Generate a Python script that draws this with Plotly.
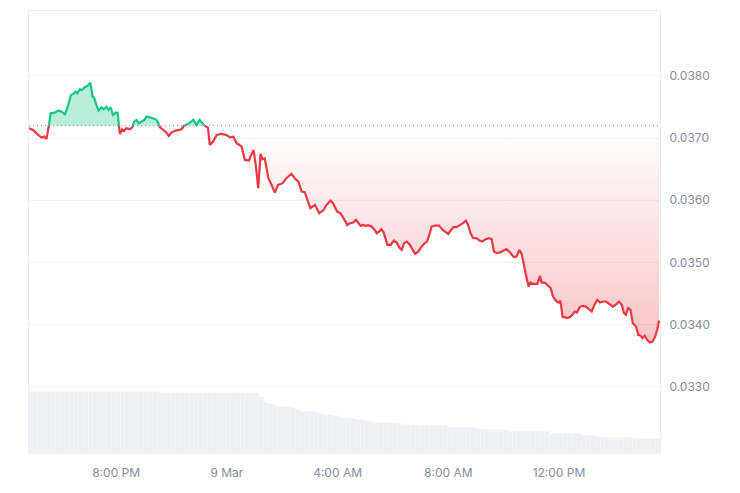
import numpy as np
import pandas as pd
import plotly.graph_objects as go

# ---------------- data ----------------
base_price = 0.03720  # opening (24h ago) reference price, dotted line

times_mar8 = ["16:51", "17:00", "17:11", "17:18", "17:24", "17:29", "17:34", "17:38", "17:47", "17:54",
              "18:02", "18:09", "18:15", "18:22", "18:27", "18:32", "18:36", "18:41", "18:46", "18:52",
              "18:58", "19:04", "19:09", "19:12", "19:17", "19:22", "19:28", "19:33", "19:39", "19:43",
              "19:48", "19:53", "19:59", "20:03", "20:08", "20:13", "20:17", "20:22", "20:30", "20:35",
              "20:39", "20:44", "20:49", "20:55", "21:01", "21:06", "21:13", "21:20", "21:28", "21:35",
              "21:42", "21:49", "21:54", "22:00", "22:07", "22:16", "22:22", "22:27", "22:35", "22:40",
              "22:47", "22:54", "23:01", "23:09", "23:19", "23:23", "23:30", "23:38", "23:48", "23:59"]

times_mar9 = ["00:06", "00:14", "00:21", "00:28", "00:32", "00:39", "00:48", "00:51", "00:58", "01:03",
              "01:08", "01:13", "01:17", "01:22", "01:30", "01:37", "01:44", "01:51", "02:01", "02:09",
              "02:20", "02:27", "02:35", "02:42", "02:49", "02:56", "03:01", "03:11", "03:20", "03:29",
              "03:36", "03:45", "03:50", "03:59", "04:06", "04:14", "04:21", "04:27", "04:34", "04:40",
              "04:45", "04:50", "04:55", "05:01", "05:06", "05:14", "05:19", "05:25", "05:30", "05:35",
              "05:40", "05:48", "05:55", "06:02", "06:08", "06:15", "06:19", "06:24", "06:30", "06:37",
              "06:43", "06:48", "06:55", "07:02", "07:09", "07:14", "07:20", "07:24", "07:31", "07:40",
              "07:48", "07:55", "08:00", "08:05", "08:11", "08:18", "08:27", "08:32", "08:38", "08:43",
              "08:48", "08:54", "09:01", "09:08", "09:14", "09:21", "09:28", "09:34", "09:39", "09:45",
              "09:52", "09:59", "10:06", "10:14", "10:22", "10:28", "10:34", "10:39", "10:44", "10:50",
              "10:54", "10:58", "11:04", "11:13", "11:19", "11:22", "11:29", "11:37", "11:42", "11:47",
              "11:55", "12:00", "12:03", "12:08", "12:13", "12:18", "12:24", "12:29", "12:34", "12:39",
              "12:45", "12:51", "12:58", "13:05", "13:11", "13:16", "13:23", "13:29", "13:36", "13:42",
              "13:49", "13:57", "14:05", "14:10", "14:16", "14:21", "14:25", "14:30", "14:35", "14:40",
              "14:47", "14:52", "14:57", "15:01", "15:06", "15:11", "15:17", "15:23", "15:28", "15:33",
              "15:37"]

prices = [
    0.037159, 0.037132, 0.037051, 0.037008, 0.037024, 0.036987, 0.037196, 0.037400, 0.037410, 0.037442,
    0.037426, 0.037384, 0.037506, 0.037694, 0.037711, 0.037748, 0.037722, 0.037786, 0.037775, 0.037818,
    0.037839, 0.037892, 0.037667, 0.037657, 0.037534, 0.037442, 0.037497, 0.037465, 0.037506, 0.037453,
    0.037497, 0.037373, 0.037410, 0.037410, 0.037067, 0.037143, 0.037116, 0.037159, 0.037143, 0.037175,
    0.037265, 0.037292, 0.037239, 0.037265, 0.037292, 0.037346, 0.037336, 0.037320, 0.037292, 0.037175,
    0.037132, 0.037088, 0.037035, 0.037088, 0.037116, 0.037132, 0.037143, 0.037196, 0.037228, 0.037249,
    0.037292, 0.037212, 0.037292, 0.037212, 0.037164, 0.036890, 0.036944, 0.037051, 0.037067, 0.037051,
    0.037014, 0.037024, 0.036918, 0.036886, 0.036863, 0.036649, 0.036638, 0.036702, 0.036810, 0.036542,
    0.036194, 0.036746, 0.036661, 0.036677, 0.036355, 0.036247, 0.036123, 0.036247, 0.036275, 0.036355,
    0.036424, 0.036355, 0.036300, 0.036140, 0.036130, 0.035979, 0.035873, 0.035926, 0.035792, 0.035834,
    0.035926, 0.035995, 0.035953, 0.035818, 0.035792, 0.035696, 0.035604, 0.035631, 0.035641, 0.035684,
    0.035641, 0.035588, 0.035604, 0.035588, 0.035599, 0.035577, 0.035535, 0.035471, 0.035496, 0.035535,
    0.035480, 0.035282, 0.035282, 0.035352, 0.035319, 0.035229, 0.035202, 0.035310, 0.035335, 0.035282,
    0.035202, 0.035138, 0.035175, 0.035255, 0.035310, 0.035335, 0.035471, 0.035577, 0.035593, 0.035593,
    0.035524, 0.035480, 0.035459, 0.035512, 0.035567, 0.035567, 0.035604, 0.035631, 0.035673, 0.035604,
    0.035471, 0.035390, 0.035390, 0.035352, 0.035335, 0.035374, 0.035390, 0.035374, 0.035175, 0.035149,
    0.035159, 0.035191, 0.035213, 0.035159, 0.035085, 0.035094, 0.035202, 0.035138, 0.034934, 0.034747,
    0.034612, 0.034676, 0.034655, 0.034655, 0.034784, 0.034676, 0.034676, 0.034623, 0.034586, 0.034451,
    0.034371, 0.034355, 0.034387, 0.034120, 0.034120, 0.034104, 0.034120, 0.034157, 0.034210, 0.034194,
    0.034281, 0.034302, 0.034290, 0.034248, 0.034210, 0.034302, 0.034398, 0.034355, 0.034371, 0.034371,
    0.034334, 0.034290, 0.034334, 0.034371, 0.034318, 0.034184, 0.034157, 0.034265, 0.034237, 0.034023,
    0.033969, 0.033835, 0.033819, 0.033782, 0.033819, 0.033755, 0.033712, 0.033727, 0.033798, 0.033916,
    0.034065]

# rolling volume, 10-minute bars starting 16:55 (relative units)
vol_start = "2025-03-08 16:55"
volume = [
    61, 61, 61, 61, 61, 61, 61, 61, 61, 61, 61, 61, 61, 61, 61, 61, 61, 61, 61, 61,
    61, 61, 61, 61, 61, 61, 61, 61, 60, 60, 60, 60, 60, 60, 60, 60, 60, 60, 60, 60,
    60, 60, 60, 60, 60, 60, 60, 60, 60, 60, 56, 50.5, 49, 47.5, 46.5, 46, 46, 45, 42.6, 41.5,
    41, 41, 40.5, 39, 38.3, 37.6, 36.8, 36, 35.2, 34.3, 33.8, 33.2, 32.6, 31.8, 31, 30.5, 30, 30, 30, 29.5,
    29, 28.5, 28, 27.6, 27, 26.6, 26.6, 26.6, 26.6, 26.6, 26.6, 25, 25, 25, 25, 25, 25, 24, 22.6, 22.6,
    22.6, 22.6, 22.6, 22.6, 21.5, 20.6, 20.6, 20.6, 20.6, 20.6, 20.6, 20.6, 20.6, 19.5, 18.6, 18.6, 18.6, 18.6, 18.6, 18.6,
    16.6, 16.6, 16.6, 16, 15, 15, 15, 15, 15, 15, 15, 14.5, 14, 14, 14, 14, 14]

tick_times = ["2025-03-08 20:00", "2025-03-09 00:00", "2025-03-09 04:00", "2025-03-09 08:00", "2025-03-09 12:00"]
tick_text = ["8:00 PM", "9 Mar", "4:00 AM", "8:00 AM", "12:00 PM"]
price_ticks = [0.0330, 0.0340, 0.0350, 0.0360, 0.0370, 0.0380]
x_range = ["2025-03-08 16:51", "2025-03-09 15:39"]

# ---------------- build ----------------
GREEN = "#16c784"
RED = "#ea3943"
LABEL = "#878ea0"
FONT = "Inter"

t = pd.to_datetime(["2025-03-08 " + s for s in times_mar8] + ["2025-03-09 " + s for s in times_mar9])
tn = t.asi8.astype(float)
p = np.array(prices)

# insert baseline crossings so colours switch exactly at the baseline
xs, ys = [tn[0]], [p[0]]
for i in range(1, len(p)):
    a, b = p[i - 1] - base_price, p[i] - base_price
    if a * b < 0:
        f = a / (a - b)
        xs.append(tn[i - 1] + f * (tn[i] - tn[i - 1]))
        ys.append(base_price)
    xs.append(tn[i])
    ys.append(p[i])
X = pd.to_datetime(np.array(xs).astype("int64"))
Y = np.array(ys)
upper = np.maximum(Y, base_price)
lower = np.minimum(Y, base_price)
up_line = np.where(Y >= base_price, Y, np.nan)
dn_line = np.where(Y <= base_price, Y, np.nan)
base_arr = np.full(len(Y), base_price)

vol_x = pd.date_range(vol_start, periods=len(volume), freq="10min")

fig = go.Figure()
fig.add_trace(go.Bar(x=vol_x, y=volume, yaxis="y2",
                     marker=dict(color="#eef0f4", line=dict(width=0.6, color="#f4f5f8")),
                     width=10 * 60 * 1000, hoverinfo="skip"))
fig.add_trace(go.Scatter(x=X, y=base_arr, mode="lines", line=dict(width=0), hoverinfo="skip"))
fig.add_trace(go.Scatter(x=X, y=upper, mode="lines", line=dict(width=0), fill="tonexty",
                         fillcolor="rgba(22,199,132,0.30)", hoverinfo="skip"))
fig.add_trace(go.Scatter(x=X, y=base_arr, mode="lines", line=dict(width=0), hoverinfo="skip"))
fig.add_trace(go.Scatter(x=X, y=lower, mode="lines", line=dict(width=0), fill="tonexty",
                         fillgradient=dict(type="vertical",
                                           colorscale=[[0, "rgba(234,57,67,0.30)"],
                                                       [1, "rgba(234,57,67,0.0)"]]),
                         hoverinfo="skip"))
fig.add_trace(go.Scatter(x=x_range, y=[base_price, base_price], mode="lines",
                         line=dict(color="#a3a8b0", width=1.2, dash="1px,3px"), hoverinfo="skip"))
fig.add_trace(go.Scatter(x=X, y=up_line, mode="lines", line=dict(color=GREEN, width=2.2), connectgaps=False))
fig.add_trace(go.Scatter(x=X, y=dn_line, mode="lines", line=dict(color=RED, width=2.2), connectgaps=False))

# page body has an 8px margin, so the figure is sized to fit the window from (8, 8)
fig.update_layout(
    width=732, height=485,
    margin=dict(l=21, r=80, t=3, b=40),
    paper_bgcolor="white", plot_bgcolor="white",
    showlegend=False, bargap=0,
    font=dict(family=FONT, size=12, color=LABEL),
    xaxis=dict(range=x_range, tickvals=tick_times, ticktext=tick_text, showgrid=False,
               showline=True, mirror=True, linecolor="#eceef1", linewidth=1, ticks="",
               zeroline=False, ticklabelstandoff=9,
               tickfont=dict(family=FONT, size=12, color=LABEL)),
    yaxis=dict(range=[0.031934, 0.039045], side="right", tickvals=price_ticks, tickformat=".4f",
               showgrid=True, gridcolor="#f2f3f5", gridwidth=1, showline=True, mirror=True,
               linecolor="#eceef1", linewidth=1, ticks="", zeroline=False, ticklabelstandoff=6,
               tickfont=dict(family=FONT, size=12, color=LABEL)),
    yaxis2=dict(overlaying="y", range=[0, 442], visible=False, fixedrange=True),
)

fig.write_html("out.html")
